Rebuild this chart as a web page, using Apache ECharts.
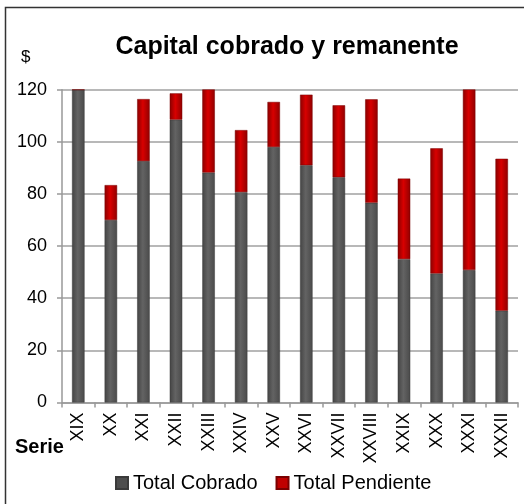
<!DOCTYPE html>
<html><head><meta charset="utf-8">
<script src="https://cdn.jsdelivr.net/npm/echarts@6/dist/echarts.min.js"></script>
<style>html,body{margin:0;padding:0;background:#fff}#c{width:524px;height:504px}</style>
</head><body><div id="c"></div>
<script>
const categories = ['XIX','XX','XXI','XXII','XXIII','XXIV','XXV','XXVI','XXVII','XXVIII','XXIX','XXX','XXXI','XXXII'];
const totalCobrado = [120,70,92.6,108.5,88.2,80.7,98,91,86.4,76.6,55,49.5,50.8,35.2];
const totalPendiente = [0,13.4,23.8,10.1,33,23.8,17.3,27.1,27.6,39.7,30.9,48,71,58.3];
const yTicks = {min:0, max:120, interval:20};

const font = 'Arial, "Liberation Sans", sans-serif';
const chart = echarts.init(document.getElementById('c'), null, {renderer:'canvas'});
const grayFill = new echarts.graphic.LinearGradient(0,0,1,0,[{offset:0,color:'#444'},{offset:0.45,color:'#636363'},{offset:1,color:'#4a4a4a'}]);
const redFill = new echarts.graphic.LinearGradient(0,0,1,0,[{offset:0,color:'#8a0000'},{offset:0.45,color:'#d80000'},{offset:1,color:'#900000'}]);
chart.setOption({
  animation:false,
  title:{text:'Capital cobrado y remanente', left:282, top:30, textAlign:'center',
    textStyle:{fontFamily:font, fontSize:25, fontWeight:'bold', color:'#000'}},
  grid:{left:62, right:6, top:89.7, bottom:101.5, containLabel:false},
  legend:{bottom:6, left:110, itemGap:18, itemWidth:12, itemHeight:12, icon:'rect',
    textStyle:{fontFamily:font, fontSize:20, color:'#000'},
    data:[{name:'Total Cobrado', itemStyle:{color:'#4d4d4d'}},{name:'Total Pendiente', itemStyle:{color:'#c00000'}}]},
  xAxis:{type:'category', data:categories,
    axisLine:{lineStyle:{color:'#999', width:1.5}},
    axisTick:{show:true, length:5, lineStyle:{color:'#999', width:1.5}},
    axisLabel:{rotate:90, margin:10, fontFamily:font, fontSize:18, color:'#000', interval:0}},
  yAxis:{type:'value', min:yTicks.min, max:yTicks.max, interval:yTicks.interval,
    axisLine:{show:true, lineStyle:{color:'#999', width:1.5}},
    axisTick:{show:true, length:5, lineStyle:{color:'#999', width:1.5}},
    splitLine:{lineStyle:{color:'#a0a0a0', width:1.5}},
    axisLabel:{margin:15, fontFamily:font, fontSize:18, color:'#000'}},
  series:[
    {name:'Total Cobrado', type:'bar', stack:'t', data:totalCobrado, barWidth:12.5,
      itemStyle:{color:grayFill, borderColor:'#3a3a3a', borderWidth:0.5}},
    {name:'Total Pendiente', type:'bar', stack:'t', data:totalPendiente, barWidth:12.5,
      itemStyle:{color:redFill, borderColor:'#7a0000', borderWidth:0.5}}
  ],
  graphic:[
    {type:'polyline', shape:{points:[[5.5,520],[5.5,7.5],[530,7.5]]}, style:{stroke:'#333', lineWidth:1.5, fill:null}},
    {type:'text', left:21, top:49, style:{text:'$', font:'17px '+font, fill:'#000'}},
    {type:'text', left:15, top:437, style:{text:'Serie', font:'bold 20px '+font, fill:'#000'}}
  ]
});
</script></body></html>
